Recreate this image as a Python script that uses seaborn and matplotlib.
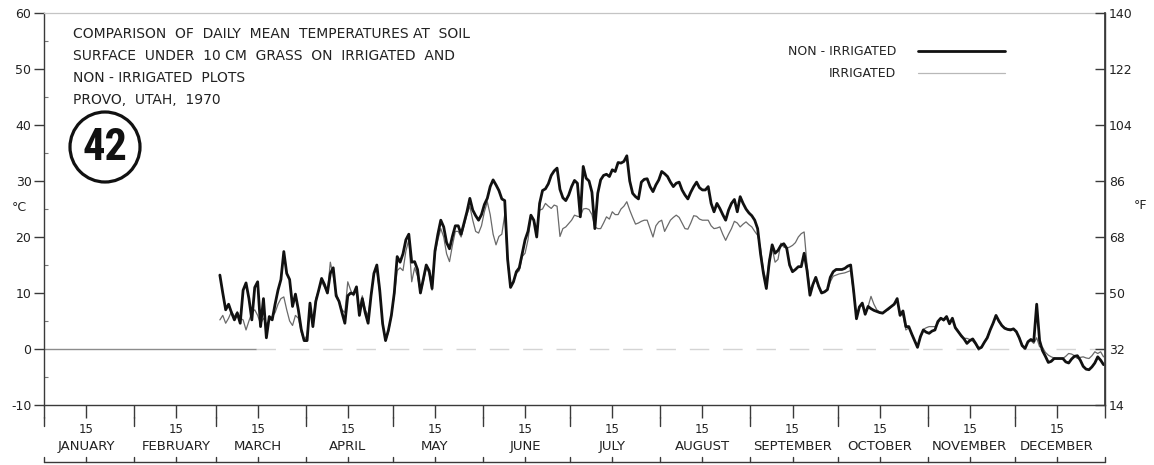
import numpy as np
import pandas as pd
import matplotlib
matplotlib.use("Agg")
import matplotlib.pyplot as plt
import matplotlib.transforms as mtransforms
from matplotlib.patches import Ellipse
import seaborn as sns

# Daily mean soil-surface temperature (deg C), Provo, Utah, 1970.
# Records start on 2 March.
nonirr_mar = [13.2, 10.0, 7.0, 8.0, 6.5, 5.2, 6.4, 4.6, 10.5, 11.8, 9.0, 5.2, 11.0, 12.0, 4.0,
              9.0, 2.0, 5.8, 5.2, 8.0, 10.5, 12.4, 17.4, 13.5, 12.4, 7.6, 9.8, 7.0, 3.5, 1.5]
nonirr_apr = [1.5, 8.2, 4.0, 8.5, 10.5, 12.6, 11.5, 10.0, 13.5, 14.5, 9.5, 8.5, 6.5, 4.6, 9.5,
              10.0, 9.8, 11.1, 6.0, 9.0, 6.5, 4.6, 9.5, 13.5, 15.0, 10.5, 4.5, 1.5, 3.4, 6.0]
nonirr_may = [10.0, 16.5, 15.5, 17.0, 19.5, 20.5, 15.5, 15.6, 14.2, 10.0, 12.5, 15.0, 14.0, 10.8, 17.5,
              20.5, 23.0, 21.8, 19.0, 17.9, 20.1, 22.0, 22.0, 20.5, 22.5, 24.5, 26.9, 24.8, 23.8, 23.0, 24.0]
nonirr_jun = [25.8, 26.9, 29.0, 30.2, 29.3, 28.3, 26.8, 26.5, 16.0, 11.0, 12.0, 13.8, 14.5, 17.0, 19.5,
              21.0, 23.9, 23.0, 20.0, 26.0, 28.3, 28.6, 29.5, 31.0, 31.8, 32.3, 28.5, 27.0, 26.5, 27.5]
nonirr_jul = [29.0, 30.1, 29.6, 23.6, 32.6, 30.5, 30.0, 28.0, 21.5, 27.8, 30.2, 31.0, 31.2, 30.8, 32.0,
              31.7, 33.3, 33.2, 33.5, 34.5, 30.0, 27.8, 27.2, 26.8, 29.8, 30.3, 30.4, 29.0, 28.1, 29.3, 30.2]
nonirr_aug = [31.7, 31.3, 30.8, 29.8, 29.0, 29.6, 29.8, 28.4, 27.5, 26.8, 28.0, 29.0, 29.8, 28.8, 28.4,
              28.4, 29.0, 26.0, 24.5, 26.0, 25.1, 24.0, 23.0, 24.8, 26.0, 26.7, 24.5, 27.2, 26.0, 25.0, 24.3]
nonirr_sep = [23.8, 23.0, 21.5, 17.0, 13.5, 10.8, 15.5, 18.6, 17.1, 17.6, 18.5, 18.8, 18.0, 15.0, 13.8,
              14.2, 14.7, 14.7, 17.1, 14.0, 9.6, 11.5, 12.8, 11.2, 10.0, 10.2, 10.6, 12.8, 13.8, 14.2]
nonirr_oct = [14.2, 14.2, 14.4, 14.8, 15.0, 10.5, 5.4, 7.5, 8.2, 6.2, 7.6, 7.2, 6.9, 6.7, 6.5,
              6.4, 6.8, 7.2, 7.6, 8.0, 9.0, 6.0, 6.8, 4.0, 4.0, 2.7, 1.5, 0.3, 2.2, 3.4, 3.0]
nonirr_nov = [2.8, 3.2, 3.4, 4.9, 5.5, 5.2, 5.8, 4.5, 5.5, 3.8, 3.1, 2.4, 1.8, 1.0, 1.5,
              1.8, 1.0, 0.1, 0.3, 1.2, 2.0, 3.4, 4.6, 6.0, 5.0, 4.2, 3.7, 3.5, 3.4, 3.6]
nonirr_dec = [3.1, 2.0, 0.6, 0.1, 1.3, 1.7, 1.4, 8.0, 1.5, -0.3, -1.3, -2.4, -2.2, -1.7, -1.7,
              -1.7, -1.7, -2.3, -2.5, -1.8, -1.3, -1.2, -2.0, -3.1, -3.6, -3.7, -3.2, -2.5, -1.4, -2.0, -2.8]

irr_mar = [5.2, 6.0, 4.6, 5.5, 6.7, 5.8, 6.7, 5.5, 5.2, 3.4, 5.0, 6.5, 7.0, 6.0, 4.5,
           5.5, 4.5, 5.0, 5.8, 6.5, 8.0, 9.0, 9.3, 7.0, 5.0, 4.2, 6.0, 5.5, 3.0, 1.5]
irr_apr = [2.5, 7.5, 5.0, 9.0, 10.5, 12.0, 11.0, 10.0, 15.5, 13.0, 10.0, 8.5, 7.0, 6.5, 12.0,
           10.5, 9.5, 11.0, 7.0, 9.5, 7.0, 6.0, 9.5, 13.6, 14.0, 10.0, 4.5, 1.5, 3.0, 6.0]
irr_may = [9.5, 14.0, 14.5, 14.0, 17.5, 19.5, 12.0, 14.5, 13.0, 10.0, 12.0, 14.5, 13.5, 10.5, 17.0,
           19.5, 21.5, 20.0, 17.0, 15.6, 18.5, 21.0, 21.0, 20.0, 22.0, 24.0, 25.5, 23.0, 21.0, 20.7, 22.0]
irr_jun = [24.5, 26.3, 24.0, 20.5, 18.6, 20.1, 20.5, 24.0, 15.5, 11.0, 12.0, 13.5, 14.0, 16.5, 17.1,
           19.5, 23.5, 23.0, 21.5, 24.8, 25.0, 26.0, 25.5, 25.1, 25.7, 25.5, 20.1, 21.5, 21.8, 22.4]
irr_jul = [23.0, 23.9, 23.7, 23.6, 25.0, 25.1, 24.9, 24.0, 21.8, 21.5, 21.5, 22.5, 23.6, 23.2, 24.5,
           24.0, 24.0, 25.0, 25.5, 26.3, 24.8, 23.5, 22.3, 22.5, 22.8, 23.0, 23.0, 21.5, 20.0, 22.0, 22.7]
irr_aug = [23.0, 21.0, 22.0, 23.0, 23.5, 23.9, 23.5, 22.5, 21.5, 21.4, 22.5, 23.8, 23.7, 23.2, 23.0,
           23.0, 23.0, 22.0, 21.5, 21.6, 21.8, 20.5, 19.4, 20.5, 21.5, 22.8, 22.5, 21.8, 22.3, 22.7, 22.2]
irr_sep = [21.8, 21.0, 20.3, 18.0, 14.0, 12.0, 16.0, 18.0, 15.5, 16.0, 18.9, 18.2, 18.0, 18.2, 18.5,
           19.0, 20.0, 20.6, 20.9, 15.0, 10.5, 11.5, 12.5, 11.0, 10.0, 10.2, 10.5, 12.0, 13.0, 13.2]
irr_oct = [13.4, 13.5, 13.6, 13.8, 14.0, 10.0, 6.0, 7.5, 8.0, 6.5, 7.6, 9.4, 8.0, 7.0, 6.6,
           6.5, 6.8, 7.0, 7.5, 8.2, 8.5, 6.5, 6.0, 3.4, 3.8, 2.8, 1.5, 0.6, 2.0, 3.5, 3.8]
irr_nov = [4.0, 4.0, 4.0, 4.5, 5.5, 5.0, 5.5, 4.8, 5.3, 4.0, 3.3, 2.2, 1.9, 1.9, 1.7,
           1.4, 0.8, -0.2, 0.2, 1.2, 2.2, 3.4, 4.5, 5.8, 4.8, 4.2, 3.8, 3.6, 3.6, 3.5]
irr_dec = [3.0, 2.0, 0.8, 0.2, 1.2, 1.5, 1.0, 2.0, 0.4, 0.3, -0.6, -1.1, -1.4, -1.6, -1.7,
           -1.7, -1.7, -1.3, -0.8, -0.9, -1.2, -1.7, -1.5, -1.4, -1.6, -1.7, -1.2, -0.5, -0.8, -0.5, -1.4]

month_names = ["JANUARY", "FEBRUARY", "MARCH", "APRIL", "MAY", "JUNE", "JULY",
               "AUGUST", "SEPTEMBER", "OCTOBER", "NOVEMBER", "DECEMBER"]
title_lines = ["COMPARISON  OF  DAILY  MEAN  TEMPERATURES AT  SOIL",
               "SURFACE  UNDER  10 CM  GRASS  ON  IRRIGATED  AND",
               "NON - IRRIGATED  PLOTS",
               "PROVO,  UTAH,  1970"]
label_nonirr = "NON - IRRIGATED"
label_irr = "IRRIGATED"
plate_number = "42"

non_irrigated = (nonirr_mar + nonirr_apr + nonirr_may + nonirr_jun + nonirr_jul
                 + nonirr_aug + nonirr_sep + nonirr_oct + nonirr_nov + nonirr_dec)
irrigated = (irr_mar + irr_apr + irr_may + irr_jun + irr_jul
             + irr_aug + irr_sep + irr_oct + irr_nov + irr_dec)

# calendar positions (days since 1 January, day centres for the records)
jan1 = pd.Timestamp("1970-01-01")
dates = pd.date_range("1970-03-02", "1970-12-31", freq="D")
x_days = (dates - jan1).days.to_numpy() + 0.5
month_starts = (pd.date_range("1970-01-01", periods=13, freq="MS") - jan1).days.to_numpy()
mid_month = month_starts[:-1] + 14.5

sns.set_theme(style="ticks")
plt.rcParams["font.family"] = ["DejaVu Sans"]
plt.rcParams["axes.unicode_minus"] = False
ink = "#222222"
axis_col = "#3a3a3a"

W, H = 1154, 465
fig = plt.figure(figsize=(W / 100, H / 100), dpi=100)
ax = fig.add_axes([44 / W, 60 / H, 1061 / W, 392 / H])

sns.lineplot(x=x_days, y=irrigated, ax=ax, color="#6a6a6a", linewidth=0.9,
             label=label_irr, zorder=3)
sns.lineplot(x=x_days, y=non_irrigated, ax=ax, color="#111111", linewidth=2.0,
             label=label_nonirr, zorder=4, solid_joinstyle="round")

# freezing line
ax.axhline(0, xmin=0, xmax=0.2, color="#8c8c8c", lw=1.0, zorder=1)
ax.axhline(0, xmin=0.2, xmax=1, color="#d4d4d4", lw=1.0, dashes=(14, 10), zorder=1)

ax.set_xlim(0, 365)
ax.set_ylim(-10, 60)
ax.set_xlabel("")
ax.set_ylabel("")

# Celsius axis
ax.set_yticks(np.arange(-10, 61, 10))
ax.set_yticks(np.arange(-5, 60, 10), minor=True)
ax.tick_params(axis="y", which="major", direction="out", length=7, width=1,
               color=axis_col, labelsize=9, labelcolor=ink, pad=2)
ax.tick_params(axis="y", which="minor", direction="in", length=3, width=0.8, color="#777777")

# months along the bottom
ax.set_xticks(month_starts)
ax.set_xticklabels([""] * len(month_starts))
ax.set_xticks(mid_month, minor=True)
ax.set_xticklabels(["15"] * len(mid_month), minor=True)
ax.tick_params(axis="x", which="major", direction="out", length=9, width=1, color=axis_col)
ax.tick_params(axis="x", which="minor", direction="out", length=9, width=1, color=axis_col,
               labelsize=8.5, labelcolor=ink, pad=4)

for side in ["left", "bottom", "right"]:
    ax.spines[side].set_color(axis_col)
    ax.spines[side].set_linewidth(1.0)
ax.spines["top"].set_color("#c4c4c4")
ax.spines["top"].set_linewidth(0.9)

# Fahrenheit axis
ax2 = ax.twinx()
ax2.set_ylim(-10 * 1.8 + 32, 60 * 1.8 + 32)
ax2.set_yticks(np.arange(14, 141, 18))
ax2.tick_params(axis="y", direction="in", length=7, width=1, color=axis_col,
                labelsize=9, labelcolor=ink, pad=3)
for side in ["left", "bottom", "top"]:
    ax2.spines[side].set_visible(False)
ax2.spines["right"].set_color(axis_col)
ax2.grid(False)

# separators, month names and base rule of the calendar strip
strip = mtransforms.blended_transform_factory(ax.transData, fig.transFigure)
for d in month_starts[:-1]:
    ax.plot([d, d], [(H - 426) / H, (H - 417) / H], transform=strip, clip_on=False,
            color=axis_col, lw=1.0)
for m, name in zip(mid_month, month_names):
    ax.text(m, (H - 446) / H, name, transform=strip, ha="center", va="center",
            fontsize=9.5, color=ink)
ax.plot([0, 365], [(H - 462) / H] * 2, transform=strip, clip_on=False, color=axis_col, lw=1.0)
for d in np.concatenate([month_starts, mid_month]):
    ax.plot([d, d], [(H - 462) / H, (H - 457) / H], transform=strip, clip_on=False,
            color=axis_col, lw=1.0)

# unit labels
fig.text(12 / W, 1 - 207 / H, "°C", fontsize=9, color=ink, va="center", ha="left")
fig.text(1134 / W, 1 - 205 / H, "°F", fontsize=9, color=ink, va="center", ha="left")

# title block
for i, line in enumerate(title_lines):
    fig.text(73 / W, 1 - (34 + 22 * i) / H, line, fontsize=10, color=ink,
             ha="left", va="center")

# plate number in a circle
ring = Ellipse((105 / 100, (H - 147) / 100), 0.70, 0.70, transform=fig.dpi_scale_trans,
               fill=False, edgecolor="#111111", lw=2.3)
fig.add_artist(ring)
fig.text(105 / W, 1 - 148 / H, plate_number, fontsize=32, fontweight="bold",
         family=["Roboto Condensed", "Liberation Sans Narrow", "DejaVu Sans Condensed",
                 "DejaVu Sans"],
         fontstretch="condensed", color="#111111", ha="center", va="center")

# legend: labels on the left, line samples on the right
handles, labels = ax.get_legend_handles_labels()
order = [labels.index(label_nonirr), labels.index(label_irr)]
leg = ax.legend([handles[i] for i in order], [labels[i] for i in order],
                loc="upper right", bbox_to_anchor=(1005 / W, 1 - 45 / H),
                bbox_transform=fig.transFigure, frameon=False, markerfirst=False,
                fontsize=9, handlelength=7.0, handletextpad=1.7, labelspacing=0.75,
                borderpad=0, borderaxespad=0)
for t in leg.get_texts():
    t.set_color(ink)
leg.legend_handles[1].set_color("#b8b8b8")

fig.savefig("out.png", dpi=100)
